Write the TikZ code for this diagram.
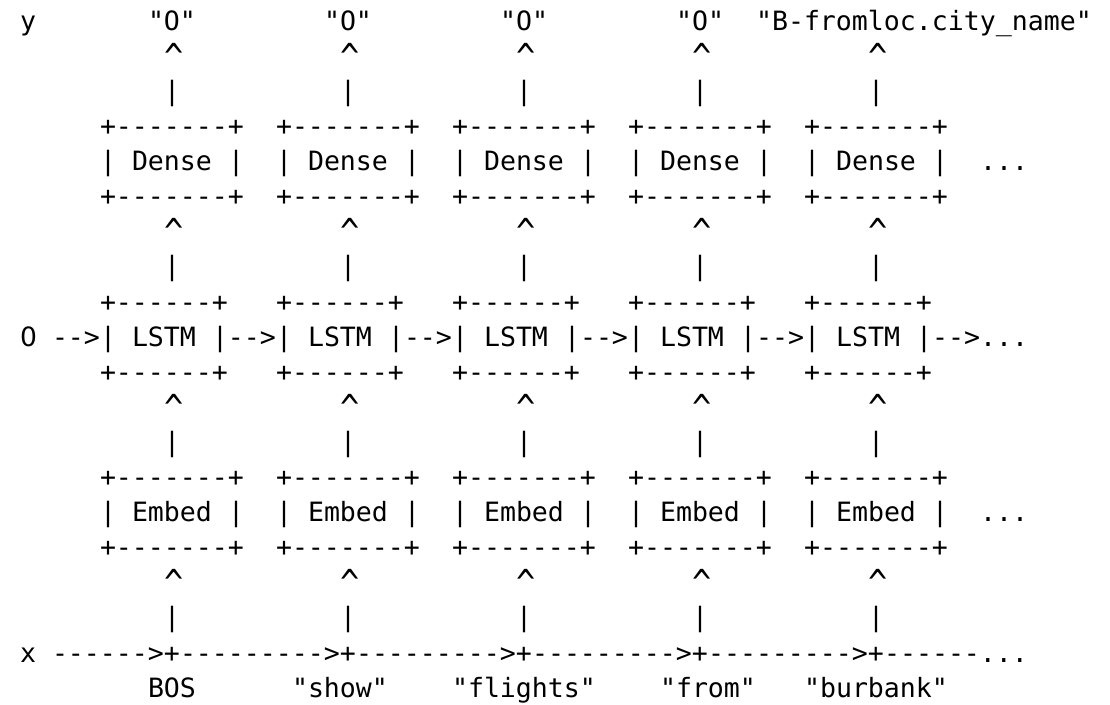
\documentclass[tikz,border=0pt]{standalone}
\usepackage{fontspec}
% monospaced type on a 16px character grid
\setmonofont{DejaVu Sans Mono}
\newfontfamily\plainzero{DejaVu Sans}
\newcommand\asciitype{\ttfamily\fontsize{19.93pt}{20pt}\selectfont}
% a slightly taller, lower caret
\newcommand\upcaret{\raisebox{-3pt}{\scalebox{1.2}[1.35]{\textasciicircum}}}
% place a run of characters at grid column #2, text line #3
\newcommand\cellat[4]{\node[ascii] (#1) at ({20+16*(#2)},{30.25+35.1*((#3)-1)}) {#4};}
\begin{document}
\begin{tikzpicture}[x=0.75pt,y=-0.75pt,
  ascii/.style={font=\asciitype, inner sep=0pt, outer sep=0pt, anchor=base west, text=black}]
\path[fill=white, use as bounding box] (0,0) rectangle (1110,705);

% output labels
\cellat{ylab}{0}{1}{y}
\cellat{out0}{8}{1}{"O"}
\cellat{out1}{19}{1}{"O"}
\cellat{out2}{30}{1}{"O"}
\cellat{out3}{41}{1}{"O"}
\cellat{out4}{46}{1}{"B-fromloc.city\_name"}

\foreach \i in {0,...,4}{
  % Dense -> output
  \cellat{capA\i}{9+11*\i}{2}{\upcaret}
  \cellat{barA\i}{9+11*\i}{3}{|}
  % Dense box
  \cellat{denseT\i}{5+11*\i}{4}{+-------+}
  \cellat{denseL\i}{5+11*\i}{5}{|}
  \cellat{dense\i}{7+11*\i}{5}{Dense}
  \cellat{denseR\i}{13+11*\i}{5}{|}
  \cellat{denseB\i}{5+11*\i}{6}{+-------+}
  % LSTM -> Dense
  \cellat{capB\i}{9+11*\i}{7}{\upcaret}
  \cellat{barB\i}{9+11*\i}{8}{|}
  % LSTM box
  \cellat{lstmT\i}{5+11*\i}{9}{+------+}
  \cellat{lstmL\i}{5+11*\i}{10}{|}
  \cellat{lstm\i}{7+11*\i}{10}{LSTM}
  \cellat{lstmR\i}{12+11*\i}{10}{|-->}
  \cellat{lstmB\i}{5+11*\i}{11}{+------+}
  % Embed -> LSTM
  \cellat{capC\i}{9+11*\i}{12}{\upcaret}
  \cellat{barC\i}{9+11*\i}{13}{|}
  % Embed box
  \cellat{embT\i}{5+11*\i}{14}{+-------+}
  \cellat{embL\i}{5+11*\i}{15}{|}
  \cellat{emb\i}{7+11*\i}{15}{Embed}
  \cellat{embR\i}{13+11*\i}{15}{|}
  \cellat{embB\i}{5+11*\i}{16}{+-------+}
  % input -> Embed
  \cellat{capD\i}{9+11*\i}{17}{\upcaret}
  \cellat{barD\i}{9+11*\i}{18}{|}
}

% continuation marks
\cellat{moreDense}{60}{5}{...}
\cellat{moreLstm}{60}{10}{...}
\cellat{moreEmb}{60}{15}{...}

% initial state
\cellat{init}{0}{10}{\plainzero 0}
\cellat{initArrow}{2}{10}{-->}

% input sequence line
\cellat{xlab}{0}{19}{x}
\cellat{seq0}{2}{19}{------>+}
\foreach \i in {1,...,4}{
  \cellat{seq\i}{10+11*(\i-1)}{19}{--------->+}
}
\cellat{seqEnd}{54}{19}{------...}

% tokens
\cellat{tok0}{8}{20}{BOS}
\cellat{tok1}{17}{20}{"show"}
\cellat{tok2}{27}{20}{"flights"}
\cellat{tok3}{40}{20}{"from"}
\cellat{tok4}{49}{20}{"burbank"}
\end{tikzpicture}
\end{document}
